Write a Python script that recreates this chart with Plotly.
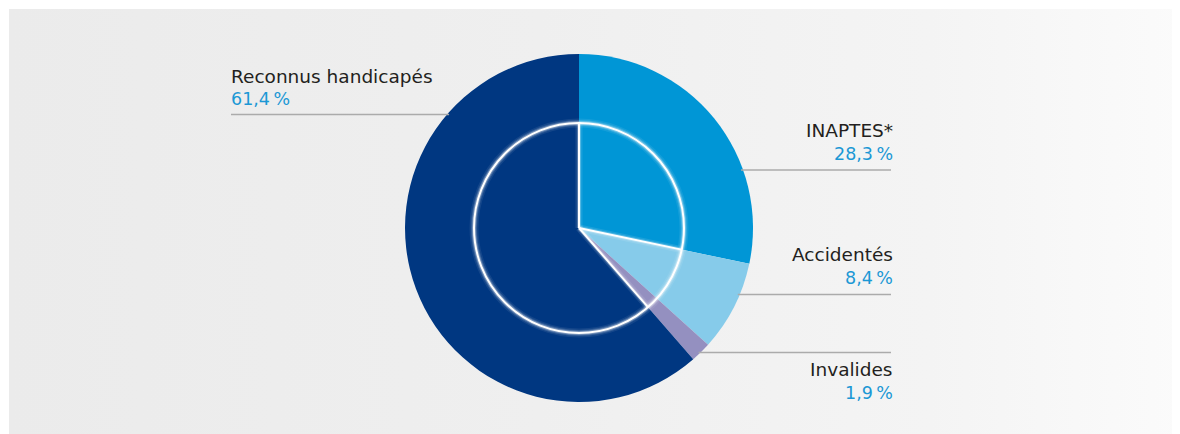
import math
import plotly.graph_objects as go

# ---- data ----
categories = ["INAPTES*", "Accidentés", "Invalides", "Reconnus handicapés"]
values = [28.3, 8.4, 1.9, 61.4]
colors = ["#0096d6", "#86cbea", "#9490c0", "#003781"]

# ---- layout constants (pixels, window coordinates) ----
W, H = 1180, 434
OFF = 8  # page body margin offset
CX, CY, R_OUT, R_IN = 579 - OFF, 228 - OFF, 174, 105
PANEL = (1, 1, W, H)
FONT = "DejaVu Sans"
FSIZE_NAME = 18.5
FSIZE_PCT = 17.5
TXT = "#231f20"
PCT = "#1b98d5"
LINE = "#ababab"

# label layout in window coordinates
label_layout = {
    3: dict(side="left", name_y=76, pct_y=99, line_y=114.5, x=229, lx=231),
    0: dict(side="right", name_y=130, pct_y=154, line_y=170, x=895, lx=891),
    1: dict(side="right", name_y=254, pct_y=278, line_y=294.5, x=895, lx=891),
    2: dict(side="right", name_y=369, pct_y=393, line_y=352.5, x=895, lx=891),
}

fig = go.Figure()

# background panel with horizontal gradient
x0, y0, x1, y1 = PANEL
fig.add_trace(go.Scatter(
    x=[x0, x1, x1, x0, x0], y=[y0, y0, y1, y1, y0],
    fill="toself", mode="lines", line=dict(width=0),
    fillgradient=dict(type="horizontal",
                      colorscale=[[0, "#ebebeb"], [0.45, "#efefef"],
                                  [0.78, "#f4f4f4"], [1, "#fbfbfb"]]),
    hoverinfo="skip", showlegend=False,
))

fig.add_trace(go.Pie(
    labels=categories, values=values, sort=False, direction="clockwise",
    rotation=0, marker=dict(colors=colors, line=dict(width=0)),
    textinfo="none", hoverinfo="skip", showlegend=False,
    domain=dict(x=[(CX - R_OUT) / W, (CX + R_OUT) / W],
                y=[(H - CY - R_OUT) / H, (H - CY + R_OUT) / H]),
))

shapes = []
# inner circle with glow
for w, c in [(9, "rgba(255,255,255,0.08)"), (6, "rgba(255,255,255,0.15)"),
             (4, "rgba(255,255,255,0.3)"), (2, "#ffffff")]:
    shapes.append(dict(type="circle", xref="x", yref="y",
                       x0=CX - R_IN, x1=CX + R_IN, y0=CY - R_IN, y1=CY + R_IN,
                       line=dict(color=c, width=w), layer="above"))

# radial white lines inside the inner circle at slice boundaries
total = sum(values)
cum = 0
bounds = [0.0]
for v in values[:-1]:
    cum += v
    bounds.append(cum / total)
radial_idx = [0, 1, 3]
for i in radial_idx:
    a = 2 * math.pi * bounds[i]
    ex = CX + R_IN * math.sin(a)
    ey = CY - R_IN * math.cos(a)
    for w, c in [(7, "rgba(255,255,255,0.1)"), (4, "rgba(255,255,255,0.25)"),
                 (2, "#ffffff")]:
        shapes.append(dict(type="line", xref="x", yref="y",
                           x0=CX, y0=CY, x1=ex, y1=ey,
                           line=dict(color=c, width=w), layer="above"))

annotations = []
for idx, lay in label_layout.items():
    tx = lay["x"] - OFF
    lx = lay["lx"] - OFF
    ly = lay["line_y"] - OFF
    dy = ly - CY
    edge = math.sqrt(max(R_OUT ** 2 - dy ** 2, 0))
    if lay["side"] == "left":
        lx0, lx1 = lx, CX - edge + 2
        anchor = "left"
    else:
        lx0, lx1 = CX + edge - 2, lx
        anchor = "right"
    shapes.append(dict(type="line", xref="x", yref="y", x0=lx0, x1=lx1,
                       y0=ly, y1=ly,
                       line=dict(color=LINE, width=1.6), layer="above"))
    pct = f"{values[idx]:.1f}".replace(".", ",") + "\u2009%"
    annotations.append(dict(x=tx, y=lay["name_y"] - OFF, xref="x", yref="y",
                            text=categories[idx], showarrow=False,
                            xanchor=anchor, yanchor="middle",
                            font=dict(family=FONT, size=FSIZE_NAME, color=TXT)))
    annotations.append(dict(x=tx, y=lay["pct_y"] - OFF, xref="x", yref="y",
                            text=pct, showarrow=False,
                            xanchor=anchor, yanchor="middle",
                            font=dict(family=FONT, size=FSIZE_PCT, color=PCT)))

fig.update_layout(
    width=W, height=H, margin=dict(l=0, r=0, t=0, b=0),
    paper_bgcolor="#ffffff", plot_bgcolor="#ffffff",
    xaxis=dict(range=[0, W], visible=False, fixedrange=True),
    yaxis=dict(range=[H, 0], visible=False, fixedrange=True),
    shapes=shapes, annotations=annotations, showlegend=False,
)

fig.write_html("out.html")
